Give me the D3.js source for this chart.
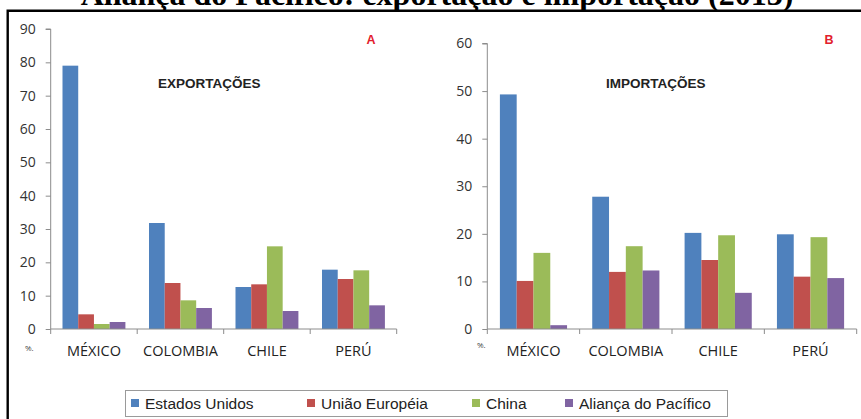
<!DOCTYPE html>
<html>
<head>
<meta charset="utf-8">
<script src="https://cdn.jsdelivr.net/npm/d3@7"></script>
<style>
  html, body { margin: 0; padding: 0; background: #fff; }
  svg { display: block; }
</style>
</head>
<body>
<svg id="chart" width="861" height="419"></svg>
<script>
// Countries of the Pacific Alliance and their trade partners
const categories = ["MÉXICO", "COLOMBIA", "CHILE", "PERÚ"];
const partners = ["Estados Unidos", "União Européia", "China", "Aliança do Pacífico"];
const partnerColors = ["#4F81BD", "#C0504D", "#9BBB59", "#8064A2"];

// Exports by destination (% of total), 2013
const exportEstadosUnidos = [79.0, 31.8, 12.6, 17.8];
const exportUniaoEuropeia = [4.4, 13.8, 13.4, 15.0];
const exportChina = [1.5, 8.6, 24.8, 17.6];
const exportAlianca = [2.1, 6.3, 5.4, 7.1];

// Imports by origin (% of total), 2013
const importEstadosUnidos = [49.3, 27.8, 20.2, 19.9];
const importUniaoEuropeia = [10.1, 12.0, 14.5, 11.0];
const importChina = [16.0, 17.4, 19.7, 19.3];
const importAlianca = [0.8, 12.3, 7.6, 10.7];

const exportTicks = [0, 10, 20, 30, 40, 50, 60, 70, 80, 90];
const importTicks = [0, 10, 20, 30, 40, 50, 60];

const svg = d3.select("#chart");
const axisColor = "#8c8c8c";
const tickFont = "'Open Sans', 'Noto Sans', sans-serif";
const legendFont = "'Liberation Sans', Arial, sans-serif";

// Frame and title
svg.append("path")
  .attr("d", "M7.7,425 L7.7,10.8 L870,10.8")
  .attr("fill", "none")
  .attr("stroke", "#000")
  .attr("stroke-width", 2.4);

svg.append("text")
  .attr("x", 437).attr("y", 5)
  .attr("text-anchor", "middle")
  .attr("font-family", "'Liberation Serif', 'Times New Roman', serif")
  .attr("font-weight", "bold")
  .attr("font-size", 32)
  .attr("fill", "#000")
  .text("Aliança do Pacífico: exportação e importação (2013)");

function drawPanel(cfg) {
  const series = cfg.series;
  const x = d3.scaleBand().domain(categories).range([cfg.x0, cfg.x1]).paddingInner(0).paddingOuter(0);
  const y = d3.scaleLinear().domain([0, d3.max(cfg.ticks)]).range([cfg.y0, cfg.y1]);
  // four bars per group with a 150% gap between groups
  const groupWidth = x.bandwidth() * 4 / 5.5;
  const xs = d3.scaleBand().domain(d3.range(series.length)).range([0, groupWidth]);
  const g = svg.append("g");

  // Bars
  series.forEach((vals, si) => {
    g.append("g").selectAll("rect")
      .data(vals)
      .join("rect")
      .attr("x", (d, i) => x(categories[i]) + (x.bandwidth() - groupWidth) / 2 + xs(si))
      .attr("y", d => y(d))
      .attr("width", xs.bandwidth())
      .attr("height", d => y(0) - y(d))
      .attr("fill", partnerColors[si]);
  });

  // Y axis
  const yAxis = g.append("g")
    .attr("transform", `translate(${cfg.x0},0)`)
    .call(d3.axisLeft(y).tickValues(cfg.ticks).tickSize(5).tickPadding(10).tickFormat(d3.format("d")));
  yAxis.select(".domain").attr("stroke", axisColor).attr("d", `M-5,${y(d3.max(cfg.ticks))}H0V${y(0)}`);
  yAxis.selectAll(".tick line").attr("stroke", axisColor);
  yAxis.selectAll(".tick text")
    .attr("font-family", tickFont).attr("font-size", 14).attr("fill", "#333");

  // X axis with tick marks between categories
  const xAxis = g.append("g").attr("transform", `translate(0,${cfg.y0})`);
  xAxis.append("line")
    .attr("x1", cfg.x0).attr("x2", cfg.x1)
    .attr("stroke", axisColor);
  xAxis.selectAll("line.sep")
    .data(categories.map(c => x(c)).concat([cfg.x1]))
    .join("line")
    .attr("class", "sep")
    .attr("x1", d => d).attr("x2", d => d)
    .attr("y1", 0).attr("y2", 5)
    .attr("stroke", axisColor);
  xAxis.selectAll("text.cat")
    .data(categories)
    .join("text")
    .attr("class", "cat")
    .attr("x", d => x(d) + x.bandwidth() / 2)
    .attr("y", 27)
    .attr("text-anchor", "middle")
    .attr("font-family", tickFont).attr("font-size", 14.5).attr("fill", "#222")
    .text(d => d);

  // Unit marker
  g.append("text")
    .attr("x", cfg.unitX).attr("y", cfg.unitY)
    .attr("font-family", tickFont).attr("font-size", 8).attr("fill", "#444")
    .text("%.");

  // Panel heading and letter
  g.append("text")
    .attr("x", cfg.headX).attr("y", 88)
    .attr("font-family", legendFont).attr("font-weight", "bold").attr("font-size", 13.5)
    .attr("fill", "#222")
    .text(cfg.heading);
  g.append("text")
    .attr("x", cfg.letterX).attr("y", 43.5)
    .attr("font-family", legendFont).attr("font-weight", "bold").attr("font-size", 12.5)
    .attr("fill", "#E2202C")
    .text(cfg.letter);
}

drawPanel({
  series: [exportEstadosUnidos, exportUniaoEuropeia, exportChina, exportAlianca],
  ticks: exportTicks,
  x0: 50.7, x1: 396.7, y0: 329, y1: 29,
  unitX: 25, unitY: 351,
  heading: "EXPORTAÇÕES", headX: 158,
  letter: "A", letterX: 366.5
});

drawPanel({
  series: [importEstadosUnidos, importUniaoEuropeia, importChina, importAlianca],
  ticks: importTicks,
  x0: 487.3, x1: 856.7, y0: 329, y1: 43.5,
  unitX: 477, unitY: 348,
  heading: "IMPORTAÇÕES", headX: 606,
  letter: "B", letterX: 824.5
});

// Legend
const legend = svg.append("g");
legend.append("rect")
  .attr("x", 125.5).attr("y", 390.5)
  .attr("width", 602).attr("height", 26)
  .attr("fill", "#fff")
  .attr("stroke", "#9a9a9a");
const legendX = [131, 307, 472, 565];
const legendItems = legend.selectAll("g.item")
  .data(partners)
  .join("g")
  .attr("class", "item")
  .attr("transform", (d, i) => `translate(${legendX[i]},0)`);
legendItems.append("rect")
  .attr("x", 0).attr("y", 399)
  .attr("width", 8).attr("height", 8)
  .attr("fill", (d, i) => partnerColors[i]);
legendItems.append("text")
  .attr("x", 14).attr("y", 409)
  .attr("font-family", legendFont).attr("font-size", 15.5)
  .attr("fill", "#222")
  .text(d => d);
</script>
</body>
</html>
